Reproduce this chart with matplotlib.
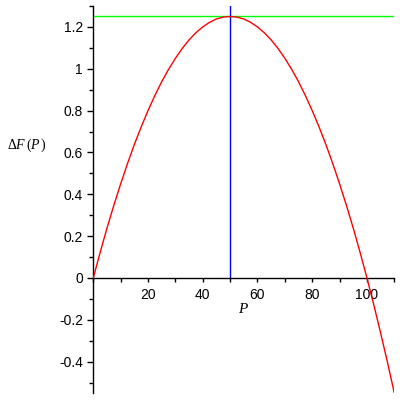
import matplotlib
matplotlib.use("Agg")
import matplotlib.pyplot as plt
from matplotlib.ticker import FixedLocator, MultipleLocator

# Data
P_values = [0, 2.5, 5, 7.5, 10, 12.5, 15, 17.5, 20, 22.5, 25, 27.5, 30, 32.5, 35, 37.5, 40, 42.5, 45, 47.5,
            50, 52.5, 55, 57.5, 60, 62.5, 65, 67.5, 70, 72.5, 75, 77.5, 80, 82.5, 85, 87.5, 90, 92.5,
            95, 97.5, 100, 102.5, 105, 107.5, 110]
dF_values = [0, 0.122, 0.238, 0.347, 0.45, 0.547, 0.638, 0.722, 0.8, 0.872, 0.938, 0.997, 1.05, 1.097,
             1.138, 1.172, 1.2, 1.222, 1.238, 1.247, 1.25, 1.247, 1.238, 1.222, 1.2, 1.172, 1.138,
             1.097, 1.05, 0.997, 0.938, 0.872, 0.8, 0.722, 0.638, 0.547, 0.45, 0.347, 0.238, 0.122,
             0, -0.128, -0.263, -0.403, -0.55]
max_level = 1.25
max_P = 50
x_ticks = [20, 40, 60, 80, 100]
x_tick_labels = ["20", "40", "60", "80", "100"]
y_ticks = [-0.4, -0.2, 0, 0.2, 0.4, 0.6, 0.8, 1.0, 1.2]
y_tick_labels = ["-0.4", "-0.2", "0", "0.2", "0.4", "0.6", "0.8", "1", "1.2"]

plt.rcParams['font.family'] = ['Liberation Sans', 'DejaVu Sans']
plt.rcParams['mathtext.fontset'] = 'custom'
plt.rcParams['mathtext.rm'] = 'Liberation Serif'
plt.rcParams['mathtext.it'] = 'Liberation Serif:italic'

fig = plt.figure(figsize=(4, 4), dpi=100)
ax = fig.add_axes([93.3/400, 1 - 393/400, (394.3 - 93.3)/400, (393 - 6)/400])
ax.set_xlim(0, 110)
ax.set_ylim(-0.55, 1.3)

ax.plot(P_values, dF_values, color="#ff0000", lw=1.0, zorder=3)
ax.plot([0, 110], [max_level, max_level], color="#00ff00", lw=1.0, zorder=2)
ax.plot([max_P, max_P], [0, 1.3], color="#0000ff", lw=1.0, zorder=2)

for s in ["top", "right"]:
    ax.spines[s].set_visible(False)
ax.spines["bottom"].set_position(("data", 0))
ax.spines["left"].set_position(("data", 0))
for s in ["bottom", "left"]:
    ax.spines[s].set_linewidth(1.0)
    ax.spines[s].set_color("black")

ax.xaxis.set_major_locator(FixedLocator(x_ticks))
ax.set_xticklabels(x_tick_labels)
ax.xaxis.set_minor_locator(MultipleLocator(10))
ax.yaxis.set_major_locator(FixedLocator(y_ticks))
ax.set_yticklabels(y_tick_labels)
ax.yaxis.set_minor_locator(MultipleLocator(0.1))

ax.tick_params(axis="x", which="both", direction="out", length=3, width=1, labelsize=10, pad=4)
ax.tick_params(axis="y", which="major", direction="out", length=4.5, width=1, labelsize=10, pad=3)
ax.tick_params(axis="y", which="minor", direction="out", length=3, width=1)

fig.text(27/400, 1 - 145/400, r"$\mathit{\Delta F}\,(P\,)$", ha="center", va="center", fontsize=10)
fig.text(243/400, 1 - 309/400, r"$P$", ha="center", va="center", fontsize=11)

fig.savefig("out.png", dpi=100)
